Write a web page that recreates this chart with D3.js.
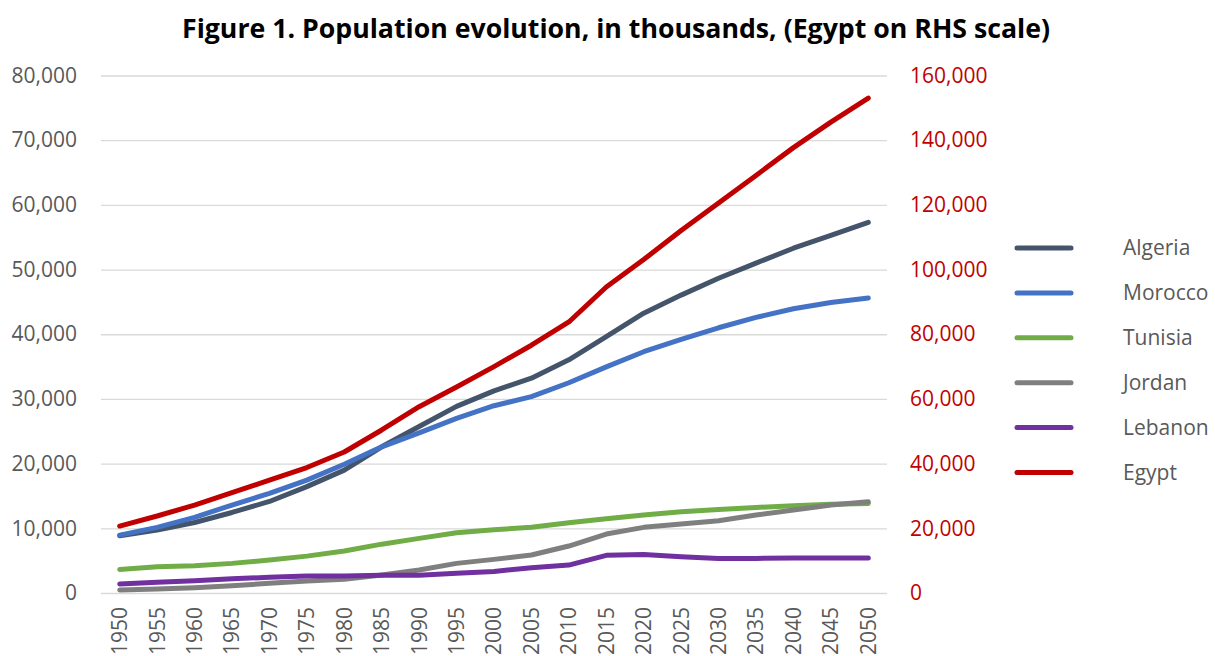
<!DOCTYPE html>
<html>
<head>
<meta charset="utf-8">
<script src="https://cdn.jsdelivr.net/npm/d3@7"></script>
<style>
    body { margin: 0; background: #fff; }
    text { font-family: "Open Sans", sans-serif; }
</style>
</head>
<body>
<svg id="chart" width="1215" height="656"></svg>
<script>
// years on the category axis
var years = d3.range(1950, 2051, 5).map(String);

// population, thousands
var algeria = [8850, 9750, 10900, 12450, 14150, 16450, 19000, 22600, 25750, 28850, 31250, 33200, 36050, 39650, 43250, 46050, 48650, 51000, 53300, 55300, 57300];
var morocco = [8950, 10150, 11700, 13600, 15400, 17450, 19900, 22600, 24750, 27000, 28950, 30350, 32500, 34950, 37300, 39200, 41000, 42600, 43950, 44900, 45600];
var tunisia = [3650, 4050, 4220, 4580, 5100, 5700, 6480, 7550, 8440, 9300, 9780, 10150, 10860, 11470, 12050, 12560, 12920, 13230, 13490, 13720, 13850];
var jordan = [460, 620, 820, 1130, 1490, 1850, 2110, 2780, 3550, 4580, 5200, 5870, 7260, 9110, 10150, 10650, 11170, 12050, 12820, 13590, 14100];
var lebanon = [1390, 1650, 1900, 2210, 2420, 2630, 2630, 2730, 2730, 3040, 3330, 3910, 4320, 5820, 5970, 5610, 5350, 5350, 5400, 5400, 5400];
var egypt = [20700, 23800, 27200, 31000, 34900, 38800, 43600, 50400, 57600, 63700, 70000, 76600, 83800, 94600, 103100, 112100, 120600, 129100, 137700, 145600, 153000];

var leftTicks = [0, 10000, 20000, 30000, 40000, 50000, 60000, 70000, 80000];
var rightTicks = [0, 20000, 40000, 60000, 80000, 100000, 120000, 140000, 160000];

var series = [
    { name: "Algeria", values: algeria, color: "#44546A", axis: "left" },
    { name: "Morocco", values: morocco, color: "#4472C4", axis: "left" },
    { name: "Tunisia", values: tunisia, color: "#70AD47", axis: "left" },
    { name: "Jordan", values: jordan, color: "#7F7F7F", axis: "left" },
    { name: "Lebanon", values: lebanon, color: "#7030A0", axis: "left" },
    { name: "Egypt", values: egypt, color: "#C00000", axis: "right" }
];

var svg = d3.select("#chart");
var plot = { left: 101, right: 887, top: 75.5, bottom: 593 };
var font = "'Open Sans', sans-serif";

var x = d3.scaleBand().domain(years).range([plot.left, plot.right]);
var yLeft = d3.scaleLinear().domain([0, 80000]).range([plot.bottom, plot.top]);
var yRight = d3.scaleLinear().domain([0, 160000]).range([plot.bottom, plot.top]);
var fmt = d3.format(",");

// title
svg.append("text")
    .attr("x", 616)
    .attr("y", 37.5)
    .attr("text-anchor", "middle")
    .attr("font-size", 26.7)
    .attr("font-weight", "bold")
    .attr("fill", "#000")
    .text("Figure 1. Population evolution, in thousands, (Egypt on RHS scale)");

// gridlines
svg.append("g")
    .attr("transform", "translate(" + plot.left + ",0)")
    .call(d3.axisLeft(yLeft).tickValues(leftTicks).tickSize(-(plot.right - plot.left)).tickFormat(""))
    .call(g => g.select(".domain").remove())
    .call(g => g.selectAll("line").attr("stroke", "#D9D9D9").attr("stroke-width", 1.3));

// left axis labels
svg.append("g")
    .attr("transform", "translate(" + plot.left + ",0)")
    .call(d3.axisLeft(yLeft).tickValues(leftTicks).tickSize(0).tickPadding(24).tickFormat(fmt))
    .call(g => g.select(".domain").remove())
    .call(g => g.selectAll("text").attr("fill", "#595959").attr("font-size", 21)
        .style("font-family", font));

// right axis labels
svg.append("g")
    .attr("transform", "translate(" + plot.right + ",0)")
    .call(d3.axisRight(yRight).tickValues(rightTicks).tickSize(0).tickPadding(23).tickFormat(fmt))
    .call(g => g.select(".domain").remove())
    .call(g => g.selectAll("text").attr("fill", "#C00000").attr("font-size", 21)
        .style("font-family", font));

// x axis, rotated labels
svg.append("g")
    .attr("transform", "translate(0," + plot.bottom + ")")
    .call(d3.axisBottom(x).tickSize(0).tickPadding(0))
    .call(g => g.select(".domain").remove())
    .call(g => g.selectAll("text")
        .attr("fill", "#595959")
        .attr("font-size", 21)
        .style("font-family", font)
        .attr("transform", "rotate(-90)")
        .attr("text-anchor", "end")
        .attr("x", -14)
        .attr("y", 0)
        .attr("dy", "0.35em"));

// series lines
series.forEach(s => {
    var y = s.axis === "left" ? yLeft : yRight;
    var line = d3.line()
        .x((d, i) => x(years[i]) + x.bandwidth() / 2)
        .y(d => y(d));
    svg.append("path")
        .datum(s.values)
        .attr("d", line)
        .attr("fill", "none")
        .attr("stroke", s.color)
        .attr("stroke-width", 5)
        .attr("stroke-linejoin", "round")
        .attr("stroke-linecap", "round");
});

// legend
var legend = svg.append("g").attr("transform", "translate(1017,248)");
series.forEach((s, i) => {
    var row = legend.append("g").attr("transform", "translate(0," + i * 44.9 + ")");
    row.append("line")
        .attr("x1", 0).attr("x2", 54)
        .attr("stroke", s.color)
        .attr("stroke-width", 5)
        .attr("stroke-linecap", "round");
    row.append("text")
        .attr("x", 106)
        .attr("dy", "0.35em")
        .attr("font-size", 21)
        .attr("fill", "#595959")
        .text(s.name);
});
</script>
</body>
</html>
